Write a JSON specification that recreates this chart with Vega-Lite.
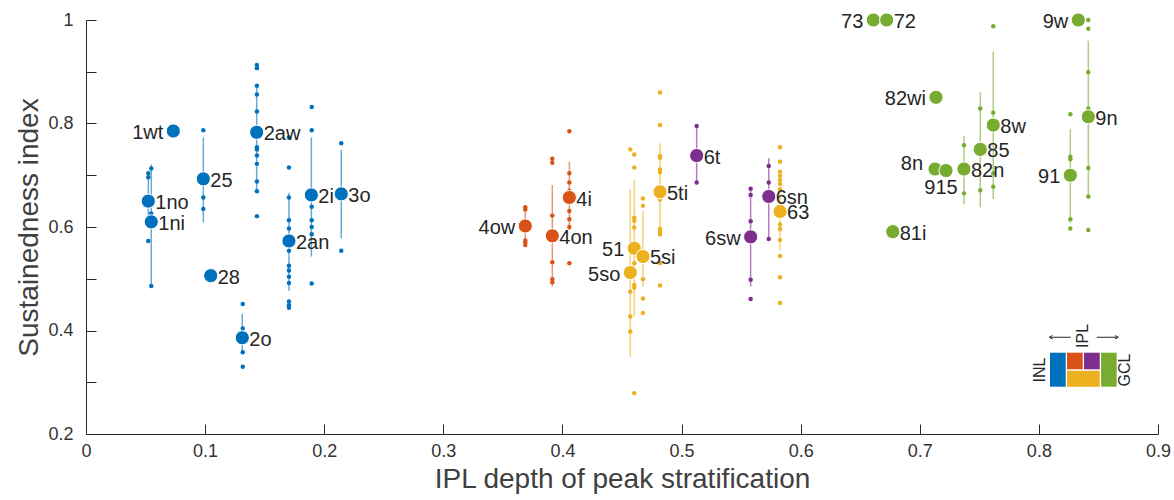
{
  "$schema": "https://vega.github.io/schema/vega-lite/v6.json",
  "width": 1072,
  "height": 414,
  "autosize": {"type": "none"},
  "padding": {"left": 86, "top": 20, "right": 16, "bottom": 66},
  "background": "white",
  "config": {
    "view": {"stroke": null},
    "font": "Liberation Sans",
    "axis": {
      "grid": false,
      "labelFlush": false,
      "labelOverlap": false,
      "domainColor": "#262626",
      "tickColor": "#262626",
      "labelColor": "#333333",
      "titleColor": "#404040",
      "labelFont": "Liberation Sans",
      "titleFont": "Liberation Sans",
      "labelFontSize": 18,
      "titleFontSize": 28,
      "titleFontWeight": "normal",
      "tickSize": -10,
      "domainWidth": 1,
      "tickWidth": 1
    }
  },
  "datasets": {
    "cells": [
      {"g": "1no", "c": "INL", "x": 0.0523, "y": 0.704},
      {"g": "1no", "c": "INL", "x": 0.0523, "y": 0.696},
      {"g": "1no", "c": "INL", "x": 0.0523, "y": 0.573},
      {"g": "1ni", "c": "INL", "x": 0.0548, "y": 0.713},
      {"g": "1ni", "c": "INL", "x": 0.0548, "y": 0.626},
      {"g": "1ni", "c": "INL", "x": 0.0548, "y": 0.486},
      {"g": "25", "c": "INL", "x": 0.0985, "y": 0.787},
      {"g": "25", "c": "INL", "x": 0.0985, "y": 0.657},
      {"g": "25", "c": "INL", "x": 0.0985, "y": 0.635},
      {"g": "2o", "c": "INL", "x": 0.1316, "y": 0.451},
      {"g": "2o", "c": "INL", "x": 0.1316, "y": 0.404},
      {"g": "2o", "c": "INL", "x": 0.1316, "y": 0.358},
      {"g": "2o", "c": "INL", "x": 0.1316, "y": 0.330},
      {"g": "2aw", "c": "INL", "x": 0.1435, "y": 0.913},
      {"g": "2aw", "c": "INL", "x": 0.1435, "y": 0.907},
      {"g": "2aw", "c": "INL", "x": 0.1435, "y": 0.873},
      {"g": "2aw", "c": "INL", "x": 0.1435, "y": 0.856},
      {"g": "2aw", "c": "INL", "x": 0.1435, "y": 0.823},
      {"g": "2aw", "c": "INL", "x": 0.1435, "y": 0.754},
      {"g": "2aw", "c": "INL", "x": 0.1435, "y": 0.750},
      {"g": "2aw", "c": "INL", "x": 0.1435, "y": 0.738},
      {"g": "2aw", "c": "INL", "x": 0.1435, "y": 0.722},
      {"g": "2aw", "c": "INL", "x": 0.1435, "y": 0.688},
      {"g": "2aw", "c": "INL", "x": 0.1435, "y": 0.669},
      {"g": "2aw", "c": "INL", "x": 0.1435, "y": 0.621},
      {"g": "2an", "c": "INL", "x": 0.1704, "y": 0.773},
      {"g": "2an", "c": "INL", "x": 0.1704, "y": 0.715},
      {"g": "2an", "c": "INL", "x": 0.1704, "y": 0.657},
      {"g": "2an", "c": "INL", "x": 0.1704, "y": 0.613},
      {"g": "2an", "c": "INL", "x": 0.1704, "y": 0.597},
      {"g": "2an", "c": "INL", "x": 0.1704, "y": 0.554},
      {"g": "2an", "c": "INL", "x": 0.1704, "y": 0.525},
      {"g": "2an", "c": "INL", "x": 0.1704, "y": 0.516},
      {"g": "2an", "c": "INL", "x": 0.1704, "y": 0.504},
      {"g": "2an", "c": "INL", "x": 0.1704, "y": 0.492},
      {"g": "2an", "c": "INL", "x": 0.1704, "y": 0.456},
      {"g": "2an", "c": "INL", "x": 0.1704, "y": 0.449},
      {"g": "2an", "c": "INL", "x": 0.1704, "y": 0.444},
      {"g": "2i", "c": "INL", "x": 0.1895, "y": 0.832},
      {"g": "2i", "c": "INL", "x": 0.1895, "y": 0.787},
      {"g": "2i", "c": "INL", "x": 0.1895, "y": 0.639},
      {"g": "2i", "c": "INL", "x": 0.1895, "y": 0.613},
      {"g": "2i", "c": "INL", "x": 0.1895, "y": 0.600},
      {"g": "2i", "c": "INL", "x": 0.1895, "y": 0.586},
      {"g": "2i", "c": "INL", "x": 0.1895, "y": 0.491},
      {"g": "3o", "c": "INL", "x": 0.2143, "y": 0.762},
      {"g": "3o", "c": "INL", "x": 0.2143, "y": 0.554},
      {"g": "4ow", "c": "IPLa", "x": 0.3688, "y": 0.638},
      {"g": "4ow", "c": "IPLa", "x": 0.3688, "y": 0.634},
      {"g": "4ow", "c": "IPLa", "x": 0.3688, "y": 0.574},
      {"g": "4ow", "c": "IPLa", "x": 0.3688, "y": 0.570},
      {"g": "4ow", "c": "IPLa", "x": 0.3688, "y": 0.565},
      {"g": "4on", "c": "IPLa", "x": 0.3915, "y": 0.732},
      {"g": "4on", "c": "IPLa", "x": 0.3915, "y": 0.724},
      {"g": "4on", "c": "IPLa", "x": 0.3915, "y": 0.622},
      {"g": "4on", "c": "IPLa", "x": 0.3915, "y": 0.532},
      {"g": "4on", "c": "IPLa", "x": 0.3915, "y": 0.499},
      {"g": "4on", "c": "IPLa", "x": 0.3915, "y": 0.493},
      {"g": "4i", "c": "IPLa", "x": 0.4058, "y": 0.785},
      {"g": "4i", "c": "IPLa", "x": 0.4058, "y": 0.704},
      {"g": "4i", "c": "IPLa", "x": 0.4058, "y": 0.686},
      {"g": "4i", "c": "IPLa", "x": 0.4058, "y": 0.670},
      {"g": "4i", "c": "IPLa", "x": 0.4058, "y": 0.631},
      {"g": "4i", "c": "IPLa", "x": 0.4058, "y": 0.615},
      {"g": "4i", "c": "IPLa", "x": 0.4058, "y": 0.600},
      {"g": "4i", "c": "IPLa", "x": 0.4058, "y": 0.530},
      {"g": "5ti", "c": "IPLb", "x": 0.4819, "y": 0.860},
      {"g": "5ti", "c": "IPLb", "x": 0.4819, "y": 0.797},
      {"g": "5ti", "c": "IPLb", "x": 0.4819, "y": 0.737},
      {"g": "5ti", "c": "IPLb", "x": 0.4819, "y": 0.734},
      {"g": "5ti", "c": "IPLb", "x": 0.4819, "y": 0.711},
      {"g": "5ti", "c": "IPLb", "x": 0.4819, "y": 0.706},
      {"g": "5ti", "c": "IPLb", "x": 0.4819, "y": 0.653},
      {"g": "5ti", "c": "IPLb", "x": 0.4819, "y": 0.596},
      {"g": "5ti", "c": "IPLb", "x": 0.4819, "y": 0.591},
      {"g": "5ti", "c": "IPLb", "x": 0.4819, "y": 0.586},
      {"g": "5ti", "c": "IPLb", "x": 0.4819, "y": 0.530},
      {"g": "5ti", "c": "IPLb", "x": 0.4819, "y": 0.487},
      {"g": "51", "c": "IPLb", "x": 0.4603, "y": 0.740},
      {"g": "51", "c": "IPLb", "x": 0.4603, "y": 0.715},
      {"g": "51", "c": "IPLb", "x": 0.4603, "y": 0.618},
      {"g": "51", "c": "IPLb", "x": 0.4603, "y": 0.612},
      {"g": "51", "c": "IPLb", "x": 0.4603, "y": 0.599},
      {"g": "51", "c": "IPLb", "x": 0.4603, "y": 0.530},
      {"g": "51", "c": "IPLb", "x": 0.4603, "y": 0.488},
      {"g": "51", "c": "IPLb", "x": 0.4603, "y": 0.483},
      {"g": "51", "c": "IPLb", "x": 0.4603, "y": 0.279},
      {"g": "5si", "c": "IPLb", "x": 0.4676, "y": 0.655},
      {"g": "5si", "c": "IPLb", "x": 0.4676, "y": 0.641},
      {"g": "5si", "c": "IPLb", "x": 0.4676, "y": 0.499},
      {"g": "5si", "c": "IPLb", "x": 0.4676, "y": 0.462},
      {"g": "5si", "c": "IPLb", "x": 0.4676, "y": 0.434},
      {"g": "5so", "c": "IPLb", "x": 0.4570, "y": 0.750},
      {"g": "5so", "c": "IPLb", "x": 0.4570, "y": 0.475},
      {"g": "5so", "c": "IPLb", "x": 0.4570, "y": 0.427},
      {"g": "5so", "c": "IPLb", "x": 0.4570, "y": 0.398},
      {"g": "63", "c": "IPLb", "x": 0.5827, "y": 0.754},
      {"g": "63", "c": "IPLb", "x": 0.5827, "y": 0.726},
      {"g": "63", "c": "IPLb", "x": 0.5827, "y": 0.707},
      {"g": "63", "c": "IPLb", "x": 0.5827, "y": 0.699},
      {"g": "63", "c": "IPLb", "x": 0.5827, "y": 0.691},
      {"g": "63", "c": "IPLb", "x": 0.5827, "y": 0.683},
      {"g": "63", "c": "IPLb", "x": 0.5827, "y": 0.673},
      {"g": "63", "c": "IPLb", "x": 0.5827, "y": 0.605},
      {"g": "63", "c": "IPLb", "x": 0.5827, "y": 0.596},
      {"g": "63", "c": "IPLb", "x": 0.5827, "y": 0.575},
      {"g": "63", "c": "IPLb", "x": 0.5827, "y": 0.544},
      {"g": "63", "c": "IPLb", "x": 0.5827, "y": 0.503},
      {"g": "63", "c": "IPLb", "x": 0.5827, "y": 0.453},
      {"g": "6t", "c": "IPLc", "x": 0.5127, "y": 0.795},
      {"g": "6t", "c": "IPLc", "x": 0.5127, "y": 0.686},
      {"g": "6sn", "c": "IPLc", "x": 0.5732, "y": 0.718},
      {"g": "6sn", "c": "IPLc", "x": 0.5732, "y": 0.686},
      {"g": "6sn", "c": "IPLc", "x": 0.5732, "y": 0.577},
      {"g": "6sw", "c": "IPLc", "x": 0.5580, "y": 0.674},
      {"g": "6sw", "c": "IPLc", "x": 0.5580, "y": 0.662},
      {"g": "6sw", "c": "IPLc", "x": 0.5580, "y": 0.611},
      {"g": "6sw", "c": "IPLc", "x": 0.5580, "y": 0.498},
      {"g": "6sw", "c": "IPLc", "x": 0.5580, "y": 0.461},
      {"g": "8w", "c": "GCL", "x": 0.7617, "y": 0.988},
      {"g": "8w", "c": "GCL", "x": 0.7617, "y": 0.821},
      {"g": "8w", "c": "GCL", "x": 0.7617, "y": 0.704},
      {"g": "8w", "c": "GCL", "x": 0.7617, "y": 0.678},
      {"g": "85", "c": "GCL", "x": 0.7508, "y": 0.829},
      {"g": "85", "c": "GCL", "x": 0.7508, "y": 0.671},
      {"g": "82n", "c": "GCL", "x": 0.7371, "y": 0.758},
      {"g": "82n", "c": "GCL", "x": 0.7371, "y": 0.665},
      {"g": "9n", "c": "GCL", "x": 0.8415, "y": 1.0},
      {"g": "9n", "c": "GCL", "x": 0.8415, "y": 0.983},
      {"g": "9n", "c": "GCL", "x": 0.8415, "y": 0.899},
      {"g": "9n", "c": "GCL", "x": 0.8415, "y": 0.829},
      {"g": "9n", "c": "GCL", "x": 0.8415, "y": 0.714},
      {"g": "9n", "c": "GCL", "x": 0.8415, "y": 0.659},
      {"g": "9n", "c": "GCL", "x": 0.8415, "y": 0.594},
      {"g": "91", "c": "GCL", "x": 0.8264, "y": 0.818},
      {"g": "91", "c": "GCL", "x": 0.8264, "y": 0.736},
      {"g": "91", "c": "GCL", "x": 0.8264, "y": 0.731},
      {"g": "91", "c": "GCL", "x": 0.8264, "y": 0.615},
      {"g": "91", "c": "GCL", "x": 0.8264, "y": 0.597}
    ],
    "summary": [
      {"g": "1wt", "c": "INL", "x": 0.0733, "y": 0.7855, "lo": null, "hi": null, "side": "left"},
      {"g": "1no", "c": "INL", "x": 0.0523, "y": 0.650, "lo": 0.620, "hi": 0.705, "side": "right"},
      {"g": "1ni", "c": "INL", "x": 0.0548, "y": 0.610, "lo": 0.486, "hi": 0.721, "side": "right"},
      {"g": "25", "c": "INL", "x": 0.0985, "y": 0.693, "lo": 0.609, "hi": 0.773, "side": "right"},
      {"g": "28", "c": "INL", "x": 0.1047, "y": 0.506, "lo": null, "hi": null, "side": "right"},
      {"g": "2o", "c": "INL", "x": 0.1312, "y": 0.386, "lo": 0.356, "hi": 0.432, "side": "right"},
      {"g": "2aw", "c": "INL", "x": 0.1433, "y": 0.783, "lo": 0.669, "hi": 0.873, "side": "right"},
      {"g": "2an", "c": "INL", "x": 0.1704, "y": 0.573, "lo": 0.477, "hi": 0.666, "side": "right"},
      {"g": "2i", "c": "INL", "x": 0.1892, "y": 0.662, "lo": 0.543, "hi": 0.773, "side": "right"},
      {"g": "3o", "c": "INL", "x": 0.2143, "y": 0.664, "lo": 0.578, "hi": 0.749, "side": "right"},
      {"g": "4ow", "c": "IPLa", "x": 0.3688, "y": 0.602, "lo": 0.565, "hi": 0.638, "side": "left"},
      {"g": "4on", "c": "IPLa", "x": 0.3915, "y": 0.583, "lo": 0.485, "hi": 0.681, "side": "right"},
      {"g": "4i", "c": "IPLa", "x": 0.4058, "y": 0.657, "lo": 0.594, "hi": 0.726, "side": "right"},
      {"g": "5ti", "c": "IPLb", "x": 0.4819, "y": 0.668, "lo": 0.581, "hi": 0.762, "side": "right"},
      {"g": "51", "c": "IPLb", "x": 0.4603, "y": 0.559, "lo": 0.427, "hi": 0.691, "side": "left"},
      {"g": "5si", "c": "IPLb", "x": 0.4676, "y": 0.543, "lo": 0.485, "hi": 0.631, "side": "right"},
      {"g": "5so", "c": "IPLb", "x": 0.4570, "y": 0.512, "lo": 0.349, "hi": 0.673, "side": "left"},
      {"g": "63", "c": "IPLb", "x": 0.5827, "y": 0.630, "lo": 0.556, "hi": 0.671, "side": "right"},
      {"g": "6t", "c": "IPLc", "x": 0.5127, "y": 0.738, "lo": 0.686, "hi": 0.795, "side": "right"},
      {"g": "6sn", "c": "IPLc", "x": 0.5732, "y": 0.659, "lo": 0.578, "hi": 0.733, "side": "right"},
      {"g": "6sw", "c": "IPLc", "x": 0.5580, "y": 0.581, "lo": 0.485, "hi": 0.674, "side": "left"},
      {"g": "73", "c": "GCL", "x": 0.6610, "y": 1.0, "lo": null, "hi": null, "side": "left"},
      {"g": "72", "c": "GCL", "x": 0.6722, "y": 1.0, "lo": null, "hi": null, "side": "right"},
      {"g": "9w", "c": "GCL", "x": 0.8331, "y": 1.0, "lo": null, "hi": null, "side": "left"},
      {"g": "82wi", "c": "GCL", "x": 0.7136, "y": 0.8506, "lo": null, "hi": null, "side": "left"},
      {"g": "8w", "c": "GCL", "x": 0.7617, "y": 0.797, "lo": 0.654, "hi": 0.939, "side": "right"},
      {"g": "85", "c": "GCL", "x": 0.7508, "y": 0.750, "lo": 0.638, "hi": 0.860, "side": "right"},
      {"g": "8n", "c": "GCL", "x": 0.7128, "y": 0.712, "lo": null, "hi": null, "side": "leftup"},
      {"g": "915", "c": "GCL", "x": 0.7220, "y": 0.709, "lo": null, "hi": null, "side": "below"},
      {"g": "82n", "c": "GCL", "x": 0.7371, "y": 0.712, "lo": 0.644, "hi": 0.776, "side": "right"},
      {"g": "91", "c": "GCL", "x": 0.8264, "y": 0.700, "lo": 0.608, "hi": 0.789, "side": "left"},
      {"g": "9n", "c": "GCL", "x": 0.8415, "y": 0.813, "lo": 0.654, "hi": 0.960, "side": "right"},
      {"g": "81i", "c": "GCL", "x": 0.6773, "y": 0.591, "lo": null, "hi": null, "side": "right"}
    ],
    "key": [
      {"c": "INL", "x": 0.8093, "x2": 0.8225, "y": 0.2914, "y2": 0.3571},
      {"c": "IPLa", "x": 0.8236, "x2": 0.8368, "y": 0.3250, "y2": 0.3571},
      {"c": "IPLc", "x": 0.8379, "x2": 0.8511, "y": 0.3250, "y2": 0.3571},
      {"c": "IPLb", "x": 0.8236, "x2": 0.8511, "y": 0.2914, "y2": 0.3223},
      {"c": "GCL", "x": 0.8522, "x2": 0.8653, "y": 0.2914, "y2": 0.3571}
    ],
    "keyText": [
      {"t": "INL", "x": 0.8010, "y": 0.3237},
      {"t": "GCL", "x": 0.8723, "y": 0.3237},
      {"t": "IPL", "x": 0.8373, "y": 0.3894}
    ],
    "arrows": [
      {"dir": "left", "x": 0.8100, "x2": 0.8267, "y": 0.3869},
      {"dir": "right", "x": 0.8653, "x2": 0.8486, "y": 0.3869}
    ]
  },
  "layer": [
    {
      "data": {"name": "summary"},
      "transform": [{"filter": "isValid(datum.lo)"}],
      "mark": {"type": "rule", "strokeWidth": 1.5, "opacity": 0.6},
      "encoding": {
        "x": {"field": "x", "type": "quantitative", "scale": {"domain": [0, 0.9], "nice": false, "zero": false},
          "axis": {"values": [0, 0.1, 0.2, 0.3, 0.4, 0.5, 0.6, 0.7, 0.8, 0.9], "format": "~g", "title": "IPL depth of peak stratification", "labelPadding": 18, "titlePadding": 5}},
        "y": {"field": "lo", "type": "quantitative", "scale": {"domain": [0.2, 1], "nice": false, "zero": false},
          "axis": {"values": [0.2, 0.3, 0.4, 0.5, 0.6, 0.7, 0.8, 0.9, 1.0], "format": "~g", "labelExpr": "(round(datum.value*10) % 2 == 0) ? datum.label : ''", "title": "Sustainedness index", "labelPadding": 23, "titlePadding": 4}},
        "y2": {"field": "hi"},
        "color": {"field": "c", "type": "nominal", "scale": {"domain": ["INL", "IPLa", "IPLb", "IPLc", "GCL"], "range": ["#0072BD", "#D95319", "#EDB120", "#7E2F8E", "#77AC30"]}, "legend": null}
      }
    },
    {
      "data": {"name": "cells"},
      "mark": {"type": "circle", "size": 20, "opacity": 1},
      "encoding": {
        "x": {"field": "x", "type": "quantitative"},
        "y": {"field": "y", "type": "quantitative"},
        "color": {"field": "c", "type": "nominal", "legend": null}
      }
    },
    {
      "data": {"name": "summary"},
      "mark": {"type": "circle", "size": 200, "opacity": 1, "stroke": "white", "strokeWidth": 1},
      "encoding": {
        "x": {"field": "x", "type": "quantitative"},
        "y": {"field": "y", "type": "quantitative"},
        "fill": {"field": "c", "type": "nominal", "scale": {"domain": ["INL", "IPLa", "IPLb", "IPLc", "GCL"], "range": ["#0072BD", "#D95319", "#EDB120", "#7E2F8E", "#77AC30"]}, "legend": null}
      }
    },
    {
      "data": {"name": "summary"},
      "transform": [{"filter": "datum.side == 'right'"}],
      "mark": {"type": "text", "align": "left", "baseline": "middle", "dx": 7, "dy": 2, "fontSize": 20, "font": "Liberation Sans", "color": "#262626"},
      "encoding": {
        "x": {"field": "x", "type": "quantitative"},
        "y": {"field": "y", "type": "quantitative"},
        "text": {"field": "g"}
      }
    },
    {
      "data": {"name": "summary"},
      "transform": [{"filter": "datum.side == 'left'"}],
      "mark": {"type": "text", "align": "right", "baseline": "middle", "dx": -10, "dy": 2, "fontSize": 20, "font": "Liberation Sans", "color": "#262626"},
      "encoding": {
        "x": {"field": "x", "type": "quantitative"},
        "y": {"field": "y", "type": "quantitative"},
        "text": {"field": "g"}
      }
    },
    {
      "data": {"name": "summary"},
      "transform": [{"filter": "datum.side == 'leftup'"}],
      "mark": {"type": "text", "align": "right", "baseline": "middle", "dx": -12, "dy": -5, "fontSize": 20, "font": "Liberation Sans", "color": "#262626"},
      "encoding": {
        "x": {"field": "x", "type": "quantitative"},
        "y": {"field": "y", "type": "quantitative"},
        "text": {"field": "g"}
      }
    },
    {
      "data": {"name": "summary"},
      "transform": [{"filter": "datum.side == 'below'"}],
      "mark": {"type": "text", "align": "center", "baseline": "middle", "dx": -5, "dy": 17, "fontSize": 20, "font": "Liberation Sans", "color": "#262626"},
      "encoding": {
        "x": {"field": "x", "type": "quantitative"},
        "y": {"field": "y", "type": "quantitative"},
        "text": {"field": "g"}
      }
    },
    {
      "data": {"name": "key"},
      "mark": {"type": "rect", "opacity": 1},
      "encoding": {
        "x": {"field": "x", "type": "quantitative"},
        "x2": {"field": "x2"},
        "y": {"field": "y", "type": "quantitative"},
        "y2": {"field": "y2"},
        "fill": {"field": "c", "type": "nominal", "legend": null}
      }
    },
    {
      "data": {"name": "keyText"},
      "mark": {"type": "text", "angle": 270, "align": "center", "baseline": "middle", "fontSize": 16, "font": "Liberation Sans", "color": "#262626"},
      "encoding": {
        "x": {"field": "x", "type": "quantitative"},
        "y": {"field": "y", "type": "quantitative"},
        "text": {"field": "t"}
      }
    },
    {
      "data": {"name": "arrows"},
      "mark": {"type": "rule", "color": "#262626", "strokeWidth": 1},
      "encoding": {
        "x": {"field": "x", "type": "quantitative"},
        "x2": {"field": "x2"},
        "y": {"field": "y", "type": "quantitative"}
      }
    },
    {
      "data": {"name": "arrows"},
      "transform": [{"filter": "datum.dir == 'left'"}],
      "mark": {"type": "point", "shape": "M1,-1L-1,0L1,1", "size": 12, "filled": false, "color": "#262626", "strokeWidth": 1, "opacity": 1},
      "encoding": {
        "x": {"field": "x", "type": "quantitative"},
        "y": {"field": "y", "type": "quantitative"}
      }
    },
    {
      "data": {"name": "arrows"},
      "transform": [{"filter": "datum.dir == 'right'"}],
      "mark": {"type": "point", "shape": "M-1,-1L1,0L-1,1", "size": 12, "filled": false, "color": "#262626", "strokeWidth": 1, "opacity": 1},
      "encoding": {
        "x": {"field": "x", "type": "quantitative"},
        "y": {"field": "y", "type": "quantitative"}
      }
    }
  ]
}
